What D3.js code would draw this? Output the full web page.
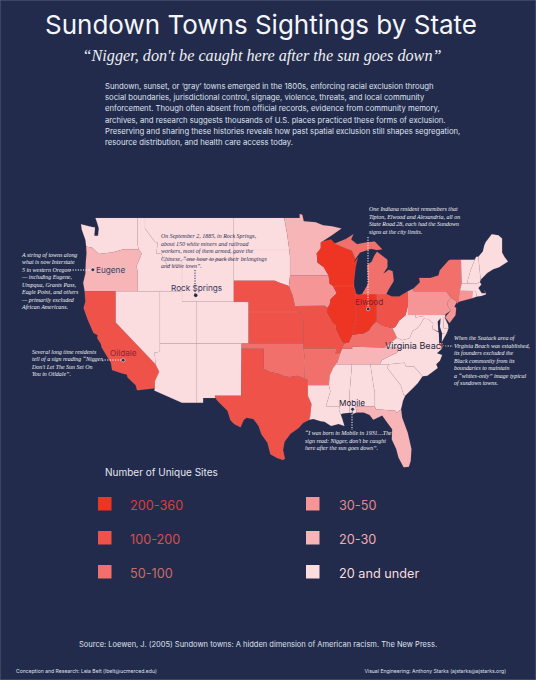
<!DOCTYPE html>
<html>
<head>
<meta charset="utf-8">
<script src="https://cdn.jsdelivr.net/npm/d3@7"></script>
<style>
html, body { margin: 0; padding: 0; background: #222b4b; }
svg { display: block; }
.sans { font-family: Inter, "Noto Sans", sans-serif; }
.note { font-family: "Liberation Serif", serif; font-style: italic; font-size: 5.95px; }
</style>
</head>
<body>
<svg id="chart" width="536" height="680"></svg>
<script>
// value bins, in legend order
var binLabels = ["200-360", "100-200", "50-100", "30-50", "20-30", "20 and under"];
var binColors = ["#ee3524", "#ee5249", "#f2706b", "#f59595", "#f8b5b8", "#fbdcdf"];
var labelColors = ["#d9403c", "#d5504f", "#cf6a6b", "#e08a8c", "#f1adb0", "#f8dcdf"];

var bin0 = ["IL", "IN", "WI"];
var bin1 = ["CA", "TX", "NE", "KS", "MO", "OH"];
var bin2 = ["OK", "AR", "KY", "MI", "NY"];
var bin3 = ["IA", "PA", "NJ", "CT"];
var bin4 = ["OR", "MN", "TN", "FL"];
var bin5 = ["WA", "NV", "ID", "MT", "WY", "UT", "CO", "AZ", "NM", "ND", "SD", "LA", "MS", "AL", "GA", "SC", "NC", "VA", "WV", "MD", "DE", "RI", "MA", "VT", "NH", "ME"];

var outlines = {
  WA: [[[-124.7,48.4],[-123.2,48.15],[-122.8,48.1],[-122.9,47.3],[-122.4,47.3],[-122.3,48],[-122.5,48.5],[-122.75,49],[-117.03,49],[-117.04,46.42],[-116.92,46],[-118.98,46],[-119.3,45.93],[-120.5,45.7],[-121.2,45.65],[-122.3,45.55],[-122.8,45.9],[-123.2,46.15],[-124,46.27],[-124.1,46.9],[-124.6,47.9]]],
  OR: [[[-124,46.27],[-123.2,46.15],[-122.8,45.9],[-122.3,45.55],[-121.2,45.65],[-120.5,45.7],[-119.3,45.93],[-118.98,46],[-116.92,46],[-116.5,45.6],[-116.85,44.95],[-117.2,44.4],[-117.03,43.8],[-117.03,42],[-124.2,42],[-124.4,42.8],[-124.1,43.7],[-124.05,44.8],[-123.95,45.6]]],
  CA: [[[-124.2,42],[-120,42],[-120,39],[-114.63,35],[-114.13,34.3],[-114.7,33.4],[-114.72,32.72],[-117.12,32.53],[-117.3,33],[-118.4,33.75],[-118.5,34.03],[-119.2,34.15],[-120.5,34.45],[-120.65,35.15],[-121.9,36.6],[-122,36.95],[-122.5,37.5],[-122.45,37.8],[-123,38],[-123.8,39.3],[-124.35,40.4],[-124.1,41]]],
  NV: [[[-120,42],[-114.04,42],[-114.04,36.2],[-114.75,36.1],[-114.63,35],[-120,39]]],
  ID: [[[-117.03,49],[-116.05,49],[-116.05,48],[-114.7,46.7],[-114.35,46.65],[-114.5,45.55],[-113.9,45.65],[-113.45,44.95],[-113,44.45],[-111.5,44.55],[-111.05,44.5],[-111.05,42],[-117.03,42],[-117.03,43.8],[-117.2,44.4],[-116.85,44.95],[-116.5,45.6],[-116.92,46],[-117.04,46.42]]],
  MT: [[[-116.05,49],[-104.05,49],[-104.05,45],[-111.05,45],[-111.05,44.5],[-111.5,44.55],[-113,44.45],[-113.45,44.95],[-113.9,45.65],[-114.5,45.55],[-114.35,46.65],[-114.7,46.7],[-116.05,48]]],
  WY: [[[-111.05,45],[-104.05,45],[-104.05,41],[-111.05,41]]],
  UT: [[[-114.04,42],[-111.05,42],[-111.05,41],[-109.05,41],[-109.05,37],[-114.04,37]]],
  CO: [[[-109.05,41],[-102.05,41],[-102.05,37],[-109.05,37]]],
  AZ: [[[-114.04,37],[-109.05,37],[-109.05,31.33],[-111.07,31.33],[-114.8,32.5],[-114.72,32.72],[-114.7,33.4],[-114.13,34.3],[-114.63,35],[-114.75,36.1],[-114.04,36.2]]],
  NM: [[[-109.05,37],[-103,37],[-103.05,32],[-106.62,32],[-106.53,31.78],[-108.2,31.78],[-108.2,31.33],[-109.05,31.33]]],
  ND: [[[-104.05,49],[-97.23,49],[-96.85,47.5],[-96.55,45.94],[-104.05,45.94]]],
  SD: [[[-104.05,45.94],[-96.55,45.94],[-96.45,45.3],[-96.45,43.5],[-96.6,42.5],[-97.9,42.8],[-98.5,43],[-104.05,43]]],
  NE: [[[-104.05,43],[-98.5,43],[-97.9,42.8],[-96.6,42.5],[-96.1,41.6],[-95.77,40.58],[-95.3,40],[-102.05,40],[-102.05,41],[-104.05,41]]],
  KS: [[[-102.05,40],[-95.3,40],[-94.9,39.8],[-94.6,39.1],[-94.62,37],[-102.05,37]]],
  OK: [[[-103,37],[-94.62,37],[-94.62,36.5],[-94.43,35.4],[-94.48,33.64],[-95.5,33.9],[-96.5,33.8],[-97.2,33.85],[-98.1,34.13],[-99.2,34.3],[-100,34.56],[-100,36.5],[-103,36.5]]],
  TX: [[[-103,36.5],[-100,36.5],[-100,34.56],[-99.2,34.3],[-98.1,34.13],[-97.2,33.85],[-96.5,33.8],[-95.5,33.9],[-94.48,33.64],[-94.04,33.55],[-94.04,33],[-94.04,31.99],[-93.55,31.2],[-93.72,30.1],[-93.85,29.7],[-94.7,29.4],[-95.3,28.9],[-96.4,28.35],[-97.2,27.6],[-97.4,26.8],[-97.15,25.96],[-97.4,25.85],[-98.2,26.05],[-99.1,26.4],[-99.5,27.5],[-100.3,28.3],[-100.7,29.1],[-101.4,29.77],[-102.3,29.88],[-102.7,29.7],[-103.15,28.98],[-104,29.3],[-104.5,29.65],[-104.9,30.55],[-106.2,31.47],[-106.53,31.78],[-106.62,32],[-103.05,32]]],
  MN: [[[-97.23,49],[-95.15,49],[-95.15,49.38],[-94.8,49.3],[-94.6,48.7],[-93,48.6],[-92,48.3],[-90.8,48.2],[-89.5,48],[-90.9,47.3],[-92.1,46.75],[-92.3,46.65],[-92.3,46.1],[-92.85,45.6],[-92.75,44.75],[-91.9,44.3],[-91.25,43.5],[-96.45,43.5],[-96.45,45.3],[-96.55,45.94],[-96.85,47.5]]],
  IA: [[[-96.45,43.5],[-91.25,43.5],[-91.1,42.7],[-90.65,42.5],[-90.15,41.8],[-91,41.2],[-91.1,40.7],[-91.42,40.38],[-91.73,40.6],[-95.77,40.58],[-96.1,41.6],[-96.6,42.5]]],
  MO: [[[-95.77,40.58],[-91.73,40.6],[-91.42,40.38],[-91.5,40],[-90.7,39],[-90.2,38.75],[-90.2,38.3],[-89.5,37.3],[-89.15,37],[-89.4,36.5],[-89.7,36],[-90.37,36],[-90.15,36.5],[-94.62,36.5],[-94.62,37],[-94.6,39.1],[-94.9,39.8],[-95.3,40]]],
  AR: [[[-94.62,36.5],[-90.15,36.5],[-90.37,36],[-89.7,36],[-90.1,35.1],[-90.6,34.7],[-91.1,33.9],[-91.2,33],[-94.04,33],[-94.04,33.55],[-94.48,33.64],[-94.43,35.4]]],
  LA: [[[-94.04,33],[-91.2,33],[-91,32.4],[-91.6,31],[-89.73,31],[-89.85,30.65],[-89.6,30.2],[-89.4,29.8],[-89.1,29.1],[-89.9,29.3],[-90.9,29.1],[-91.8,29.5],[-92.3,29.55],[-93.3,29.77],[-93.85,29.7],[-93.72,30.1],[-93.55,31.2],[-94.04,31.99]]],
  MS: [[[-90.3,35],[-88.2,35],[-88.1,34.9],[-88.45,31.9],[-88.4,30.37],[-89.35,30.3],[-89.6,30.2],[-89.85,30.65],[-89.73,31],[-91.6,31],[-91,32.4],[-91.2,33],[-91.1,33.9],[-90.6,34.7],[-90.1,35.1]]],
  AL: [[[-88.2,35],[-85.6,35],[-85.15,32.85],[-85,32.3],[-85,31],[-87.6,31],[-87.45,30.4],[-88,30.25],[-88,30.7],[-88.15,30.35],[-88.4,30.37],[-88.45,31.9],[-88.1,34.9]]],
  GA: [[[-85.6,35],[-83.1,35],[-83.35,34.7],[-82.6,34],[-81.5,33],[-81.1,32.1],[-80.9,32],[-81.2,31.5],[-81.45,30.7],[-82.05,30.36],[-82.2,30.57],[-84.86,30.7],[-85,31],[-85,32.3],[-85.15,32.85]]],
  FL: [[[-87.6,31],[-85,31],[-84.86,30.7],[-82.2,30.57],[-82.05,30.36],[-81.45,30.7],[-81.3,29.9],[-80.55,28.45],[-80.05,26.9],[-80.15,25.75],[-80.4,25.2],[-81.1,25.15],[-81.8,26.1],[-82.1,26.9],[-82.7,27.8],[-82.65,28.8],[-83.4,29.5],[-84,30.1],[-85.2,29.7],[-85.7,30.15],[-86.5,30.4],[-87.45,30.4]]],
  SC: [[[-83.1,35],[-81,35.15],[-80.8,34.82],[-79.7,34.8],[-78.55,33.86],[-79.2,33.2],[-79.9,32.7],[-80.9,32],[-81.1,32.1],[-81.5,33],[-82.6,34],[-83.35,34.7]]],
  NC: [[[-84.32,35],[-84.05,35.4],[-83,35.8],[-82,36.1],[-81.7,36.59],[-75.87,36.55],[-76.6,36.05],[-75.9,35.9],[-76.2,35.35],[-76.7,35],[-76.5,34.65],[-77.9,33.9],[-78.55,33.86],[-79.7,34.8],[-80.8,34.82],[-81,35.15],[-83.1,35]]],
  TN: [[[-90.1,35.1],[-89.7,36],[-89.4,36.5],[-88.05,36.5],[-88.07,36.68],[-83.68,36.6],[-81.7,36.59],[-82,36.1],[-83,35.8],[-84.05,35.4],[-84.32,35],[-85.6,35],[-88.2,35],[-90.3,35]]],
  KY: [[[-89.4,36.5],[-89.15,37],[-88.5,37.1],[-88.05,37.8],[-87.2,37.9],[-86.5,37.95],[-85.8,38.25],[-85.4,38.7],[-84.8,39.1],[-84.2,38.8],[-83.7,38.65],[-82.6,38.45],[-82,37.55],[-83.68,36.6],[-88.07,36.68],[-88.05,36.5]]],
  VA: [[[-83.68,36.6],[-82,37.55],[-81.3,37.3],[-80.3,37.5],[-79.9,38.2],[-79.3,38.42],[-78.87,38.77],[-78.35,39.4],[-77.75,39.32],[-77.1,38.9],[-77.25,38.4],[-76.35,38.05],[-76.3,37],[-76,36.9],[-75.87,36.55],[-81.7,36.59]],[[-75.9,37.95],[-75.25,38.03],[-75.95,37.15]]],
  WV: [[[-82.6,38.45],[-82,37.55],[-81.3,37.3],[-80.3,37.5],[-79.9,38.2],[-79.3,38.42],[-78.87,38.77],[-78.35,39.4],[-77.75,39.32],[-78.4,39.62],[-79.48,39.48],[-79.48,39.72],[-80.52,39.72],[-80.52,40.64],[-80.85,39.7],[-81.7,39.2],[-82.2,38.6]]],
  MD: [[[-79.48,39.72],[-75.79,39.72],[-75.7,38.46],[-75.05,38.45],[-75.25,38.03],[-75.9,37.95],[-76.2,38.6],[-76.1,39.4],[-76.5,39.1],[-76.42,38.15],[-77.25,38.4],[-77.1,38.9],[-77.75,39.32],[-78.35,39.4],[-78.4,39.62],[-79.48,39.48]]],
  DE: [[[-75.79,39.72],[-75.45,39.8],[-75.55,39.45],[-75.1,38.8],[-75.05,38.45],[-75.7,38.46]]],
  PA: [[[-80.52,42],[-79.76,42.25],[-79.76,42],[-75.35,42],[-74.7,41.36],[-75.13,40.98],[-75.2,40.65],[-74.72,40.15],[-75.45,39.8],[-75.79,39.72],[-80.52,39.72]]],
  NJ: [[[-75.13,40.98],[-74.7,41.36],[-73.9,41],[-74.25,40.5],[-74,40.4],[-74.1,39.7],[-74.9,38.95],[-75.5,39.5],[-74.72,40.15],[-75.2,40.65]]],
  NY: [[[-79.76,42.25],[-78.9,42.85],[-79,43.27],[-77.5,43.27],[-76.4,43.5],[-76.2,44],[-75,44.95],[-74.7,45],[-73.35,45],[-73.3,43.6],[-73.25,42.75],[-73.5,42.05],[-73.5,41.3],[-73.65,41],[-73.9,40.8],[-73.9,41],[-74.7,41.36],[-75.35,42],[-79.76,42]]],
  CT: [[[-73.5,42.05],[-71.8,42.02],[-71.85,41.32],[-73.65,41]]],
  RI: [[[-71.8,42.02],[-71.38,42.02],[-71.2,41.5],[-71.85,41.32]]],
  MA: [[[-73.5,42.05],[-73.25,42.75],[-71.3,42.7],[-70.8,42.87],[-70.6,42.65],[-71,42.3],[-70.55,41.8],[-70,41.8],[-70.2,42.08],[-69.95,41.7],[-70.6,41.55],[-71.2,41.5],[-71.38,42.02],[-71.8,42.02]]],
  VT: [[[-73.35,45],[-71.5,45],[-72.05,44],[-72.45,43],[-72.46,42.73],[-73.25,42.75],[-73.3,43.6]]],
  NH: [[[-71.5,45],[-71.3,45.3],[-71,45.3],[-70.7,43.1],[-70.8,42.87],[-71.3,42.7],[-72.46,42.73],[-72.45,43],[-72.05,44]]],
  ME: [[[-71,45.3],[-70.4,45.8],[-70.2,46.4],[-70,46.7],[-69.2,47.45],[-68.3,47.35],[-67.8,47.05],[-67.8,45.7],[-67.45,45.25],[-67,44.85],[-68.2,44.3],[-69,44.1],[-69.8,43.75],[-70.7,43.1]]],
  OH: [[[-84.8,41.73],[-83.45,41.73],[-82.7,41.5],[-81.7,41.5],[-80.52,42],[-80.52,40.64],[-80.85,39.7],[-81.7,39.2],[-82.2,38.6],[-82.6,38.45],[-83.7,38.65],[-84.2,38.8],[-84.8,39.1]]],
  IN: [[[-87.53,41.75],[-87.2,41.65],[-86.7,41.73],[-84.8,41.73],[-84.8,39.1],[-85.4,38.7],[-85.8,38.25],[-86.5,37.95],[-87.2,37.9],[-88.05,37.8],[-87.5,39.35]]],
  IL: [[[-90.65,42.5],[-87.8,42.5],[-87.53,41.75],[-87.5,39.35],[-88.05,37.8],[-88.5,37.1],[-89.15,37],[-89.5,37.3],[-90.2,38.3],[-90.2,38.75],[-90.7,39],[-91.5,40],[-91.42,40.38],[-91.1,40.7],[-91,41.2],[-90.15,41.8]]],
  WI: [[[-92.1,46.75],[-90.9,46.95],[-90.4,46.55],[-89.1,46.15],[-88.1,45.9],[-87.6,45.1],[-87.95,44.6],[-87.3,45.2],[-87.6,44.3],[-87.8,43],[-87.8,42.5],[-90.65,42.5],[-91.1,42.7],[-91.25,43.5],[-91.9,44.3],[-92.75,44.75],[-92.85,45.6],[-92.3,46.1],[-92.3,46.65]]],
  MI: [[[-86.7,41.73],[-83.45,41.73],[-83.1,42.2],[-82.5,42.9],[-82.45,43.05],[-82.6,43.9],[-83.1,44.05],[-83.9,43.65],[-83.3,44.3],[-83.3,45],[-84.7,45.78],[-85.1,45.35],[-85.4,44.85],[-86,44.5],[-85.95,43.7],[-85.9,42.7]],[[-90.4,46.55],[-89.1,46.15],[-88.1,45.9],[-87.6,45.1],[-87,45.7],[-85.5,46.05],[-84.75,45.95],[-84,46],[-84.6,46.45],[-85,46.75],[-86.2,46.65],[-87.4,46.5],[-88.2,46.95],[-87.9,47.45],[-88.9,47]]]
};

// towns
var towns = ["Eugene", "Rock Springs", "Oildale", "Elwood", "Virginia Beach", "Mobile"];
var townLon = [-123.1, -109.2, -119.0, -85.9, -76.0, -88.0];
var townLat = [44.05, 41.6, 35.4, 40.3, 36.85, 30.7];

var noteEugene = ["A string of towns along", "what is now Interstate", "5 in western Oregon", "— including Eugene,", "Umpqua, Grants Pass,", "Eagle Point, and others", "— primarily excluded", "African Americans."];
var noteRock = ["On September 2, 1885, in Rock Springs,", "about 150 white miners and railroad", "workers, most of them armed, gave the", "Chinese, “one hour to pack their belongings", "and leave town”."];
var noteOildale = ["Several long time residents", "tell of a sign reading “Nigger,", "Don't Let The Sun Set On", "You in Oildale”."];
var noteElwood = ["One Indiana resident remembers that", "Tipton, Elwood and Alexandria, all on", "State Road 28, each had the Sundown", "signs at the city limits."];
var noteVirginia = ["When the Seatack area of", "Virginia Beach was established,", "its founders excluded the", "Black community from its", "boundaries to maintain", "a “whites-only” image typical", "of sundown towns."];
var noteMobile = ["“I was born in Mobile in 1931…The", "sign read: Nigger, don't be caught", "here after the sun goes down”."];

var bodyLines = [
  "Sundown, sunset, or ‘gray’ towns emerged in the 1800s, enforcing racial exclusion through",
  "social boundaries, jurisdictional control, signage, violence, threats, and local community",
  "enforcement. Though often absent from official records, evidence from community memory,",
  "archives, and research suggests thousands of U.S. places practiced these forms of exclusion.",
  "Preserving and sharing these histories reveals how past spatial exclusion still shapes segregation,",
  "resource distribution, and health care access today."
];

var svg = d3.select("#chart");
svg.append("rect").attr("width", 536).attr("height", 680).attr("fill", "#222b4b")
  .attr("stroke", "#59617f").attr("stroke-width", 1);

// the map is a plain lon/lat stretch: the 49th parallel runs dead flat
var lonScale = d3.scaleLinear().domain([-124.7, -67]).range([81, 508]);
var latScale = d3.scaleLinear().domain([49, 25.85]).range([218, 460]);
var stretch = d3.geoTransform({
  point: function (lon, lat) {
    this.stream.point(lonScale(lon), latScale(lat));
  }
});
var path = d3.geoPath(stretch);

var bins = [bin0, bin1, bin2, bin3, bin4, bin5];
var stateColor = d3.scaleOrdinal()
  .domain(d3.merge(bins))
  .range(d3.merge(bins.map(function (b, i) { return b.map(function () { return binColors[i]; }); })));

// geojson rings have to be closed or the last edge gets lost
var features = Object.keys(outlines).map(function (id) {
  return {
    type: "Feature",
    id: id,
    geometry: {
      type: "MultiPolygon",
      coordinates: outlines[id].map(function (ring) { return [ring.concat([ring[0]])]; })
    }
  };
});

svg.append("g").selectAll("path")
  .data(features)
  .join("path")
  .attr("d", path)
  .attr("fill", function (d) { return stateColor(d.id); })
  .attr("stroke", "#eeb4b4")
  .attr("stroke-opacity", 0.3)
  .attr("stroke-width", 0.4);

// header
svg.append("text").attr("class", "sans")
  .attr("x", 261).attr("y", 34).attr("text-anchor", "middle")
  .attr("font-size", 26).attr("fill", "#f4f5f9")
  .text("Sundown Towns Sightings by State");
svg.append("text")
  .attr("x", 262).attr("y", 61).attr("text-anchor", "middle")
  .attr("font-family", "Liberation Serif").attr("font-style", "italic")
  .attr("font-size", 16.2).attr("fill", "#eef0f5")
  .text("“Nigger, don't be caught here after the sun goes down”");

svg.append("g").attr("class", "sans").selectAll("text")
  .data(bodyLines)
  .join("text")
  .attr("x", 105)
  .attr("y", function (d, i) { return 89 + i * 11.2; })
  .attr("font-size", 7.7)
  .attr("fill", "#dfe2ee")
  .text(function (d) { return d; });

var leaders = [
  [[70, 270], [90, 270], "#ffffff"],
  [[195, 270], [195, 294], "#222b4b"],
  [[102, 360], [121, 360], "#ffffff"],
  [[368, 237], [368, 306], "#ffffff"],
  [[445, 346], [453, 346], "#ffffff"],
  [[352, 414], [352, 430], "#ffffff"]
];
svg.append("g").selectAll("line")
  .data(leaders)
  .join("line")
  .attr("x1", function (d) { return d[0][0]; })
  .attr("y1", function (d) { return d[0][1]; })
  .attr("x2", function (d) { return d[1][0]; })
  .attr("y2", function (d) { return d[1][1]; })
  .attr("stroke", function (d) { return d[2]; })
  .attr("stroke-width", 1)
  .attr("stroke-dasharray", "1.2 1.4");

var townFill = ["#222b4b", "#222b4b", "#222b4b", "#222b4b", "#ee3524", "#222b4b"];
svg.append("g").selectAll("circle")
  .data(towns)
  .join("circle")
  .attr("cx", function (d, i) { return lonScale(townLon[i]); })
  .attr("cy", function (d, i) { return latScale(townLat[i]); })
  .attr("r", 1.8)
  .attr("fill", function (d, i) { return townFill[i]; })
  .attr("stroke", function (d, i) { return i == 1 ? "none" : "#ffffff"; })
  .attr("stroke-width", 0.5);

var labelX = [96, 171, 110, 355, 385, 339];
var labelY = [273, 291, 356, 305, 349, 406];
var labelFill = ["#3a3f66", "#343a60", "#8b2438", "#7a2030", "#262a3e", "#1f2233"];
svg.append("g").attr("class", "sans").selectAll("text")
  .data(towns)
  .join("text")
  .attr("x", function (d, i) { return labelX[i]; })
  .attr("y", function (d, i) { return labelY[i]; })
  .attr("font-size", function (d, i) { return i == 4 ? 9 : 8.2; })
  .attr("fill", function (d, i) { return labelFill[i]; })
  .text(function (d) { return d; });

// town annotations, over the map
function note(lines, x, y, step, color) {
  svg.append("g").selectAll("text")
    .data(lines)
    .join("text")
    .attr("class", "note")
    .attr("x", x)
    .attr("y", function (d, i) { return y + i * step; })
    .attr("fill", color)
    .text(function (d) { return d; });
}
note(noteEugene, 22, 257, 7.45, "#f2f2f6");
note(noteRock, 161, 238, 7.5, "#2a3154");
note(noteOildale, 32, 354, 7.4, "#f2f2f6");
note(noteElwood, 369, 211, 7.5, "#f2f2f6");
note(noteVirginia, 454, 340, 7.5, "#f2f2f6");
note(noteMobile, 305, 435, 7.5, "#f2f2f6");

// legend
svg.append("text").attr("class", "sans")
  .attr("x", 105).attr("y", 476)
  .attr("font-size", 10).attr("fill", "#e4e6f0")
  .text("Number of Unique Sites");

var legendX = d3.scalePoint().domain([0, 1]).range([98, 306]);
var legendY = d3.scalePoint().domain([0, 1, 2]).range([497, 565]);
var legend = svg.append("g").selectAll("g")
  .data(binLabels)
  .join("g")
  .attr("transform", function (d, i) {
    return "translate(" + legendX(Math.floor(i / 3)) + "," + legendY(i % 3) + ")";
  });
legend.append("rect")
  .attr("width", 13.5).attr("height", 13.5)
  .attr("fill", function (d, i) { return binColors[i]; });
legend.append("text").attr("class", "sans")
  .attr("x", function (d, i) { return i < 3 ? 32 : 33; })
  .attr("y", 13)
  .attr("font-size", 12.7)
  .attr("fill", function (d, i) { return labelColors[i]; })
  .text(function (d) { return d; });

// footer
svg.append("text").attr("class", "sans")
  .attr("x", 258).attr("y", 647).attr("text-anchor", "middle")
  .attr("font-size", 7.5).attr("fill", "#dfe2ee")
  .text("Source: Loewen, J. (2005) Sundown towns: A hidden dimension of American racism. The New Press.");
svg.append("text").attr("class", "sans")
  .attr("x", 16).attr("y", 673)
  .attr("font-size", 5.1).attr("fill", "#dfe2ee")
  .text("Conception and Research: Leia Belt (lbelt@ucmerced.edu)");
svg.append("text").attr("class", "sans")
  .attr("x", 506).attr("y", 673).attr("text-anchor", "end")
  .attr("font-size", 5.1).attr("fill", "#dfe2ee")
  .text("Visual Engineering: Anthony Starks (ajstarks@ajstarks.org)");
</script>
</body>
</html>
